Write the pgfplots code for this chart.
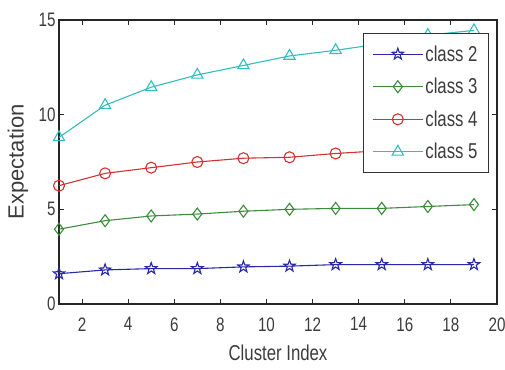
\documentclass[border=0pt]{standalone}
\usepackage{fontspec}
\setmainfont{Liberation Sans}[FakeStretch=0.78]
\newfontfamily\ylfont{Liberation Sans}
\usepackage{pgfplots}
\pgfplotsset{compat=1.18}
\usetikzlibrary{plotmarks}
\definecolor{cA}{RGB}{40,40,170}
\definecolor{cB}{RGB}{60,140,60}
\definecolor{cC}{RGB}{210,50,50}
\definecolor{cD}{RGB}{50,190,190}
\definecolor{txt}{RGB}{60,60,60}
\pgfdeclareplotmark{pentagram}{%
  \pgfpathmoveto{\pgfpointpolar{90}{\pgfplotmarksize}}%
  \pgfpathlineto{\pgfpointpolar{126}{0.40\pgfplotmarksize}}%
  \pgfpathlineto{\pgfpointpolar{162}{\pgfplotmarksize}}%
  \pgfpathlineto{\pgfpointpolar{198}{0.40\pgfplotmarksize}}%
  \pgfpathlineto{\pgfpointpolar{234}{\pgfplotmarksize}}%
  \pgfpathlineto{\pgfpointpolar{270}{0.40\pgfplotmarksize}}%
  \pgfpathlineto{\pgfpointpolar{306}{\pgfplotmarksize}}%
  \pgfpathlineto{\pgfpointpolar{342}{0.40\pgfplotmarksize}}%
  \pgfpathlineto{\pgfpointpolar{18}{\pgfplotmarksize}}%
  \pgfpathlineto{\pgfpointpolar{54}{0.40\pgfplotmarksize}}%
  \pgfpathclose
  \pgfusepathqstroke}
\begin{document}
\begin{tikzpicture}
\begin{axis}[
  scale only axis,
  width=438pt, height=284pt,
  xmin=1, xmax=20, ymin=0, ymax=15,
  xtick={2,4,...,20}, ytick={0,5,10,15},
  tick align=inside,
  major tick length=5pt,
  axis line style={line width=1.1pt, black!85},
  every tick/.style={black!85, line width=1pt},
  /pgf/number format/assume math mode=true,
  tick label style={font=\fontsize{19.5}{19.5}\selectfont, text=txt},
  xticklabel style={yshift=-10pt},
  xlabel={Cluster Index},
  ylabel={\ylfont Expectation},
  xlabel style={font=\fontsize{21.5}{21.5}\selectfont, text=txt,
    at={(axis description cs:0.5,0)}, anchor=center, yshift=-49pt},
  ylabel style={font=\fontsize{22}{22}\selectfont, text=txt,
    at={(axis description cs:0,0.5)}, anchor=center, yshift=41pt},
  legend cell align=left,
  legend style={at={(0.982,0.954)}, anchor=north east,
    font=\fontsize{21.5}{21.5}\selectfont, text=txt,
    draw=black!80, line width=1.1pt, fill=white,
    row sep=11.5pt, inner xsep=9pt, inner ysep=10pt},
  legend image code/.code={%
    \draw[mark repeat=2,mark phase=2] plot coordinates {(0pt,0pt) (25pt,0pt) (50pt,0pt)};},
  every axis plot/.append style={line width=1.1pt},
]
\addplot[cA, mark=pentagram, mark size=6pt, mark options={solid}] coordinates {
 (1,1.6) (3,1.8) (5,1.87) (7,1.87) (9,1.96) (11,2.0) (13,2.08) (15,2.08) (17,2.08) (19,2.08)};
\addlegendentry{class 2}
\addplot[cB, mark=diamond, mark size=6pt, mark options={solid}] coordinates {
 (1,3.95) (3,4.4) (5,4.65) (7,4.75) (9,4.9) (11,5.0) (13,5.05) (15,5.05) (17,5.15) (19,5.25)};
\addlegendentry{class 3}
\addplot[cC, mark=o, mark size=5.5pt, mark options={solid}] coordinates {
 (1,6.25) (3,6.9) (5,7.2) (7,7.5) (9,7.7) (11,7.75) (13,7.95) (15,8.1) (17,8.2) (19,8.3)};
\addlegendentry{class 4}
\addplot[cD, mark=triangle, mark size=6.5pt, mark options={solid}] coordinates {
 (1,8.8) (3,10.5) (5,11.45) (7,12.1) (9,12.6) (11,13.1) (13,13.4) (15,13.75) (17,14.2) (19,14.45)};
\addlegendentry{class 5}
\end{axis}
\pgfresetboundingbox
\path[use as bounding box] (current axis.south west) ++(-59pt,-65pt) rectangle ([shift={(8pt,20pt)}]current axis.north east);
\end{tikzpicture}
\end{document}
